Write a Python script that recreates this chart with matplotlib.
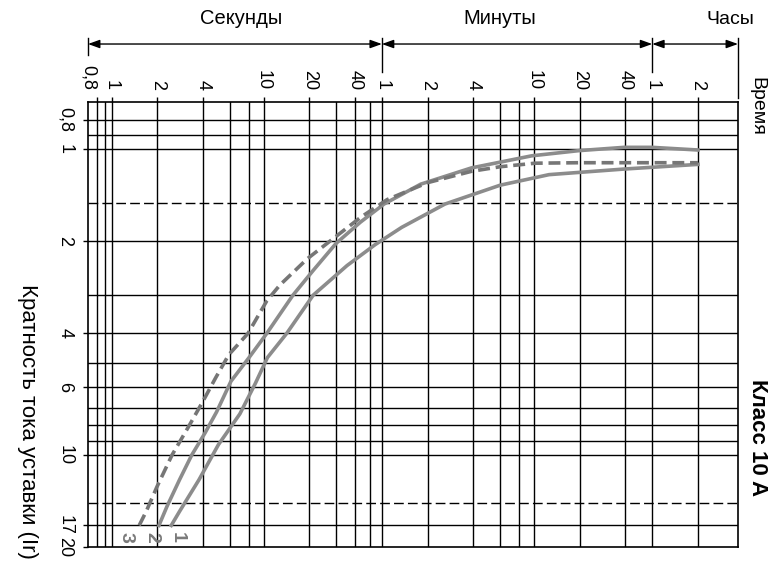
import matplotlib.pyplot as plt
from matplotlib.ticker import NullLocator

plt.rcParams['font.family'] = ['Liberation Sans', 'DejaVu Sans']

### Trip curves, class 10A: trip time (s) vs multiple of set current
# curve 1 (solid, slowest)
c1_t = [2.47, 2.8, 3.76, 5.04, 6.98, 8.83, 10.6, 14.2, 21.2, 35.4, 54.2, 81,
        156, 360, 754, 1180, 2350, 7200]
c1_i = [17, 15.3, 12.05, 9.26, 7.34, 5.83, 4.8, 4.0, 3.0, 2.4, 2.05, 1.80,
        1.51, 1.31, 1.21, 1.19, 1.16, 1.12]
# curve 2 (solid, middle)
c2_t = [2.05, 2.32, 2.8, 3.37, 4.12, 4.9, 6.1, 8.0, 10.5, 15.6, 21.2, 30,
        43.4, 62, 108, 233, 580, 1180, 2350, 3600, 7200]
c2_i = [17, 14.7, 12.05, 10.0, 8.47, 7.24, 5.74, 4.81, 4.0, 3.0, 2.49, 2.03,
        1.73, 1.51, 1.30, 1.15, 1.05, 1.01, 0.985, 0.985, 1.005]
# curve 3 (dashed, fastest)
c3_t = [1.52, 1.69, 1.99, 2.5, 3.27, 4.0, 4.83, 5.9, 7.9, 10.5, 12.8, 19.4,
        28.3, 43.4, 65, 120, 233, 360, 610, 1180, 7200]
c3_i = [17, 15.3, 12.7, 10.0, 7.95, 6.66, 5.6, 4.7, 4.0, 3.13, 2.78, 2.28,
        1.97, 1.67, 1.46, 1.285, 1.18, 1.14, 1.11, 1.106, 1.106]

### Grid and tick values
x_grid = [0.8, 0.9, 1, 2, 4, 6, 8, 10, 20, 30, 40, 50, 60,
          120, 240, 360, 480, 600, 1200, 2400, 3600, 7200]
y_grid = [0.8, 0.9, 1, 2, 3, 4, 5, 6, 7, 8, 9, 10, 17]
y_dash = [1.5, 14.4]

x_ticks = [0.8, 1, 2, 4, 10, 20, 40, 60, 120, 240, 600, 1200, 2400, 3600, 7200]
x_labels = ['0,8', '1', '2', '4', '10', '20', '40',
            '1', '2', '4', '10', '20', '40', '1', '2']
y_ticks = [0.8, 1, 2, 4, 6, 10, 17, 20]
y_labels = ['0,8', '1', '2', '4', '6', '10', '17', '20']

# time ranges: seconds / minutes / hours (in s)
ranges = [(0.7, 60, 'Секунды'), (60, 3600, 'Минуты'), (3600, 13200, 'Часы')]

fig = plt.figure(figsize=(7.73, 5.62), dpi=100)
ax = fig.add_axes([88/773, 1 - 547/562, 650/773, 445/562])
ax.set_xscale('log')
ax.set_yscale('log')
ax.set_xlim(0.7, 13200)
ax.set_ylim(20, 0.7)
ax.xaxis.set_minor_locator(NullLocator())
ax.yaxis.set_minor_locator(NullLocator())

for x in x_grid:
    ax.axvline(x, color='k', lw=1.0, zorder=1)
for y in y_grid:
    ax.axhline(y, color='k', lw=1.0, zorder=1)
for y in y_dash:
    ax.axhline(y, color='k', lw=1.0, dashes=(7, 3), zorder=1)

for s in ax.spines.values():
    s.set_linewidth(1.2)

## Curves
ax.plot(c1_t, c1_i, color='#8c8c8c', lw=2.6, zorder=3, solid_joinstyle='round')
ax.plot(c2_t, c2_i, color='#8c8c8c', lw=2.6, zorder=3, solid_joinstyle='round')
ax.plot(c3_t, c3_i, color='#767676', lw=2.6, zorder=3, dashes=(3.3, 1.6))

for t, lab in [(2.71, '1'), (1.84, '2'), (1.24, '3')]:
    ax.text(t, 18.6, lab, rotation=-90, color='#7a7a7a', fontsize=14,
            fontweight='bold', ha='center', va='center', zorder=4)

## Ticks
ax.set_xticks(x_ticks, labels=x_labels)
ax.set_yticks(y_ticks, labels=y_labels)
ax.tick_params(axis='x', top=True, bottom=False, labeltop=True,
               labelbottom=False, direction='out', length=3.6, width=1,
               pad=5, labelsize=13, labelrotation=-90)
ax.tick_params(axis='y', left=True, right=False, direction='out',
               length=3.6, width=1, pad=7, labelsize=13, labelrotation=-90)
for lbl in ax.get_yticklabels():
    lbl.set_va('center')
ax.get_xticklabels()[0].set_ha('right')

## Range arrows above the plot
trans = ax.get_xaxis_transform()
for t0, t1, name in ranges:
    ax.annotate('', xy=(t1, 1.1303), xytext=(t0, 1.1303), xycoords=trans,
                annotation_clip=False,
                arrowprops=dict(arrowstyle='<|-|>,head_length=0.5,head_width=0.18',
                                color='k', lw=1.0, mutation_scale=14,
                                shrinkA=0, shrinkB=0))
ax.plot([0.7, 0.7], [1.1056, 1.1438], color='k', lw=1.0, transform=trans, clip_on=False)
ax.plot([60, 60], [1.0674, 1.1438], color='k', lw=1.0, transform=trans, clip_on=False)
ax.plot([3600, 3600], [1.0674, 1.1438], color='k', lw=1.0, transform=trans, clip_on=False)
ax.plot([13200, 13200], [1.009, 1.1438], color='k', lw=1.0, transform=trans, clip_on=False)

fig.text(241/773, 1 - 19/562, 'Секунды', fontsize=14.5, ha='center', va='center')
fig.text(500/773, 1 - 19/562, 'Минуты', fontsize=14.5, ha='center', va='center')
fig.text(730/773, 1 - 19/562, 'Часы', fontsize=14, ha='center', va='center')

fig.text(757/773, 1 - 106/562, 'Время', fontsize=14, rotation=-90,
         ha='center', va='center')
fig.text(757/773, 1 - 438/562, 'Класс 10 A', fontsize=16, fontweight='bold',
         rotation=-90, ha='center', va='center')
fig.text(27/773, 1 - 421/562, 'Кратность тока уставки (Ir)', fontsize=16,
         rotation=-90, ha='center', va='center')

fig.savefig('out.png', dpi=100)
